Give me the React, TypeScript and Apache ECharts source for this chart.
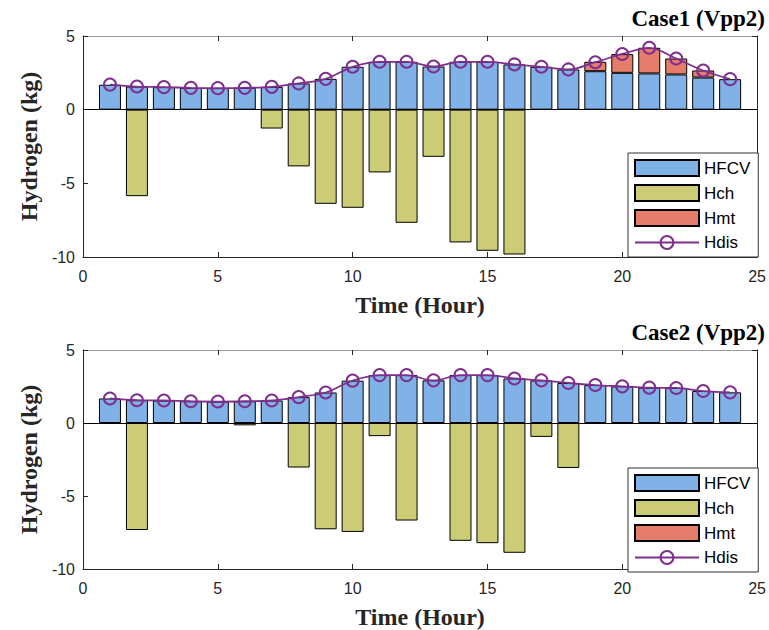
import React, { useEffect, useRef } from "react";
import * as echarts from "echarts";

const xCategories = ["0", "1", "2", "3", "4", "5", "6", "7", "8", "9", "10", "11", "12", "13", "14", "15", "16", "17", "18", "19", "20", "21", "22", "23", "24", "25"];
const hours = ["1", "2", "3", "4", "5", "6", "7", "8", "9", "10", "11", "12", "13", "14", "15", "16", "17", "18", "19", "20", "21", "22", "23", "24"];
const yTicks = [-10, -5, 0, 5];
const legendNames = ["HFCV", "Hch", "Hmt", "Hdis"];
const panelTitles = ["Case1 (Vpp2)", "Case2 (Vpp2)"];

const case1HFCV = [1.69, 1.57, 1.53, 1.48, 1.46, 1.48, 1.55, 1.78, 2.09, 2.91, 3.25, 3.25, 2.93, 3.25, 3.25, 3.07, 2.91, 2.73, 2.61, 2.5, 2.46, 2.39, 2.18, 2.07];
const case1Hch = [0, -5.87, 0, 0, 0, 0, -1.28, -3.85, -6.39, -6.66, -4.26, -7.68, -3.2, -9.01, -9.58, -9.83, 0, 0, 0, 0, 0, 0, 0, 0];
const case1Hmt = [0, 0, 0, 0, 0, 0, 0, 0, 0, 0, 0, 0, 0, 0, 0, 0, 0, 0, 0.64, 1.27, 1.74, 1.08, 0.48, 0];
const case1Hdis = [1.7, 1.57, 1.53, 1.48, 1.46, 1.48, 1.55, 1.78, 2.09, 2.91, 3.25, 3.25, 2.93, 3.25, 3.25, 3.07, 2.91, 2.73, 3.22, 3.78, 4.2, 3.47, 2.66, 2.07];

const case2HFCV = [1.68, 1.56, 1.54, 1.49, 1.47, 1.49, 1.54, 1.77, 2.09, 2.9, 3.28, 3.28, 2.92, 3.28, 3.28, 3.05, 2.92, 2.74, 2.6, 2.51, 2.42, 2.4, 2.19, 2.1];
const case2Hch = [0, -7.33, 0, 0, 0, -0.16, 0, -3.05, -7.28, -7.46, -0.9, -6.68, 0, -8.07, -8.23, -8.89, -0.95, -3.08, 0, 0, 0, 0, 0, 0];
const case2Hmt = [0, 0, 0, 0, 0, 0, 0, 0, 0, 0, 0, 0, 0, 0, 0, 0, 0, 0, 0, 0, 0, 0, 0, 0];
const case2Hdis = [1.68, 1.56, 1.54, 1.49, 1.47, 1.49, 1.54, 1.77, 2.09, 2.9, 3.28, 3.28, 2.92, 3.28, 3.28, 3.05, 2.92, 2.74, 2.6, 2.51, 2.42, 2.4, 2.19, 2.1];

const cases = [
  { hfcv: case1HFCV, hch: case1Hch, hmt: case1Hmt, hdis: case1Hdis },
  { hfcv: case2HFCV, hch: case2Hch, hmt: case2Hmt, hdis: case2Hdis },
];

const BLUE = "#80B2E8";
const OLIVE = "#CCCC77";
const SALMON = "#E67D6A";
const PURPLE = "#7E2F8E";
const AXIS = "#262626";
const SERIF = "'Liberation Serif', 'Times New Roman', serif";
const SANS = "'Liberation Sans', Arial, sans-serif";

const gridTops = [36, 350];
const gridHeights = [221, 220];
const legendTops = [153, 468];
const titleTops = [7, 321];

// align hourly values with the 0..25 category axis; empty slots stay blank
function barItems(vals: number[]) {
  return xCategories.map((cat) => {
    const i = hours.indexOf(cat);
    if (i < 0) return { value: 0, itemStyle: { opacity: 0, borderWidth: 0 } };
    return vals[i] === 0
      ? { value: 0, itemStyle: { opacity: 0, borderWidth: 0 } }
      : { value: vals[i] };
  });
}
function lineItems(vals: number[]) {
  return xCategories.map((cat) => {
    const i = hours.indexOf(cat);
    return i < 0 ? "-" : vals[i];
  });
}

export default function App() {
  const ref = useRef<HTMLDivElement>(null);
  useEffect(() => {
    if (!ref.current) return;
    const chart = echarts.init(ref.current, null, { renderer: "svg" });
    const grid: any[] = [];
    const xAxis: any[] = [];
    const yAxis: any[] = [];
    const series: any[] = [];
    const legend: any[] = [];
    const title: any[] = [];

    cases.forEach((c, g) => {
      grid.push({ left: 83, top: gridTops[g], width: 677, height: gridHeights[g], show: false });
      const xBase = {
        type: "category",
        gridIndex: g,
        data: xCategories,
        boundaryGap: false,
        splitLine: { show: false },
        axisTick: { show: true, inside: true, length: 5, interval: 4, lineStyle: { color: AXIS, width: 1 } },
      };
      xAxis.push({
        ...xBase,
        position: "bottom",
        axisLine: { show: true, onZero: false, lineStyle: { color: AXIS, width: 1 } },
        axisLabel: { show: true, interval: 4, fontSize: 16, color: AXIS, fontFamily: SANS, margin: 11 },
        name: "Time (Hour)",
        nameLocation: "middle",
        nameGap: 36,
        nameTextStyle: { fontFamily: SERIF, fontWeight: "bold", fontSize: 24, color: AXIS },
      });
      xAxis.push({
        ...xBase,
        position: "top",
        axisLine: { show: true, onZero: false, lineStyle: { color: "#9a9a9a", width: 1 } },
        axisLabel: { show: false },
      });
      const yBase = {
        type: "value",
        gridIndex: g,
        min: yTicks[0],
        max: yTicks[yTicks.length - 1],
        interval: 5,
        splitLine: { show: false },
        axisTick: { show: true, inside: true, length: 5, lineStyle: { color: AXIS, width: 1 } },
      };
      yAxis.push({
        ...yBase,
        position: "left",
        axisLine: { show: true, onZero: false, lineStyle: { color: AXIS, width: 1 } },
        axisLabel: { show: true, fontSize: 16, color: AXIS, fontFamily: SANS, margin: 8 },
        name: "Hydrogen (kg)",
        nameLocation: "middle",
        nameGap: 40,
        nameTextStyle: { fontFamily: SERIF, fontWeight: "bold", fontSize: 24, color: AXIS },
      });
      yAxis.push({
        ...yBase,
        position: "right",
        axisLine: { show: true, onZero: false, lineStyle: { color: AXIS, width: 1 } },
        axisLabel: { show: false },
      });
      const xi = g * 2;
      const yi = g * 2;
      const barCommon = {
        type: "bar",
        xAxisIndex: xi,
        yAxisIndex: yi,
        stack: "total" + g,
        barWidth: 22,
      };
      series.push({
        ...barCommon,
        name: "HFCV",
        data: barItems(c.hfcv),
        itemStyle: { color: BLUE, borderColor: "#000", borderWidth: 1 },
        markLine: {
          silent: true,
          symbol: ["none", "none"],
          label: { show: false },
          lineStyle: { color: "#000", width: 1, type: "solid" },
          data: [{ yAxis: 0 }],
        },
      });
      series.push({
        ...barCommon,
        name: "Hmt",
        data: barItems(c.hmt),
        itemStyle: { color: SALMON, borderColor: "#000", borderWidth: 1 },
      });
      series.push({
        ...barCommon,
        name: "Hch",
        data: barItems(c.hch),
        itemStyle: { color: OLIVE, borderColor: "#000", borderWidth: 1 },
      });
      series.push({
        type: "line",
        name: "Hdis",
        xAxisIndex: xi,
        yAxisIndex: yi,
        data: lineItems(c.hdis),
        smooth: 0.35,
        symbol: "circle",
        symbolSize: 12,
        z: 5,
        lineStyle: { color: PURPLE, width: 1.8 },
        itemStyle: { color: "transparent", borderColor: PURPLE, borderWidth: 2 },
      });
      legend.push({
        data: legendNames.map((n) => (n === "Hdis" ? { name: n } : { name: n, icon: "rect" })),
        orient: "vertical",
        left: 628,
        top: legendTops[g],
        itemWidth: 64,
        itemHeight: 16,
        itemGap: 7,
        padding: [6, 8, 6, 6],
        backgroundColor: "#fff",
        borderColor: "#333",
        borderWidth: 1,
        borderRadius: 0,
        textStyle: { fontFamily: SANS, fontSize: 17, color: "#000" },
        selectedMode: false,
      });
      title.push({
        text: panelTitles[g],
        right: 4,
        top: titleTops[g],
        padding: 0,
        textStyle: { fontFamily: SERIF, fontWeight: "bold", fontSize: 23, color: "#000" },
      });
    });

    chart.setOption({
      animation: false,
      backgroundColor: "#fff",
      title,
      grid,
      xAxis,
      yAxis,
      legend,
      series,
    });
    return () => chart.dispose();
  }, []);
  return (
    <div
      ref={ref}
      style={{ position: "fixed", left: 0, top: 0, width: 769, height: 630, background: "#fff" }}
    />
  );
}
